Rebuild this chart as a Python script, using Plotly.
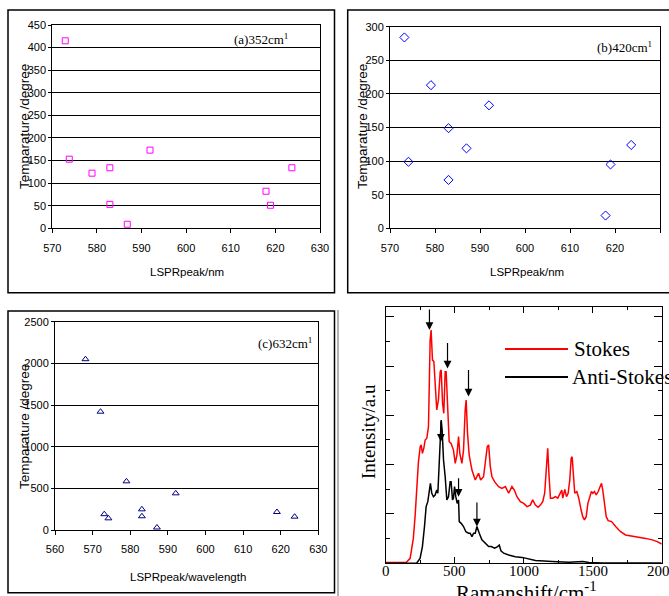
import plotly.graph_objects as go

# ---------------- data ----------------
# (a) 352 cm-1
a_lspr = [572.9, 573.8, 578.9, 582.9, 582.9, 586.8, 591.9, 617.9, 618.9, 623.7]
a_temp = [415, 153, 122, 134, 53, 9, 173, 82, 51, 134]
# (b) 420 cm-1
b_lspr = [573.2, 574.1, 579.1, 583.0, 583.0, 587.0, 592.0, 617.9, 619.0, 623.6]
b_temp = [284, 99, 213, 149, 72, 119, 183, 19, 95, 124]
# (c) 632 cm-1
c_lspr = [568.1, 572.1, 573.1, 574.2, 579.0, 583.1, 583.1, 587.1, 592.1, 619.0, 623.7]
c_temp = [2050, 1420, 190, 140, 584, 248, 165, 30, 440, 216, 160]

# (d) spectra
stokes_shift = [0, 50, 100, 150, 177, 200, 213, 225, 237, 250, 257, 266, 276, 286, 298, 310, 322, 329,
                339, 349, 358, 370, 382, 395, 402, 412, 421, 431, 438, 448, 460, 474, 491, 504, 516,
                528, 537, 552, 564, 576, 583, 593, 605, 625, 649, 673, 688, 709, 726, 736, 746, 758,
                770, 789, 818, 842, 867, 891, 915, 932, 951, 976, 1000, 1024, 1048, 1065, 1085, 1104,
                1121, 1138, 1152, 1165, 1174, 1184, 1194, 1210, 1230, 1247, 1266, 1276, 1283, 1298,
                1310, 1322, 1334, 1344, 1351, 1361, 1370, 1385, 1399, 1416, 1428, 1440, 1453, 1465,
                1477, 1491, 1501, 1513, 1525, 1540, 1554, 1564, 1573, 1583, 1598, 1612, 1637, 1666,
                1702, 1738, 1787, 1835, 1884, 1932, 1968, 2000]
stokes_int = [0.03, 0.03, 0.03, 0.04, 0.2, 1.0, 1.9, 3.0, 4.1, 4.73, 4.80, 4.46, 4.66, 5.00, 5.07, 5.54,
              9.05, 9.46, 8.24, 8.18, 7.43, 6.22, 6.62, 7.77, 7.84, 6.49, 6.08, 7.77, 7.77, 6.22, 4.93,
              4.86, 4.59, 4.05, 4.39, 5.14, 4.46, 4.05, 4.59, 6.22, 6.62, 5.27, 4.39, 3.78, 3.38,
              3.65, 3.38, 3.51, 4.19, 4.73, 4.80, 3.92, 3.51, 3.31, 3.11, 3.04, 3.11, 2.84, 3.11,
              2.97, 2.70, 2.50, 2.43, 2.30, 2.36, 2.57, 2.36, 2.27, 2.36, 2.50, 2.84, 3.78, 4.66,
              3.51, 2.64, 2.64, 2.70, 2.64, 2.91, 2.97, 2.64, 3.00, 2.70, 2.84, 3.38, 4.26, 4.32,
              3.51, 2.84, 2.91, 2.64, 2.16, 1.89, 1.76, 1.89, 2.43, 2.64, 2.91, 2.84, 2.91, 2.77,
              2.91, 3.11, 3.24, 2.97, 2.43, 1.89, 1.73, 1.69, 1.49, 1.28, 1.15, 1.11, 1.05, 1.01,
              0.95, 0.88, 0.78]

anti_shift = [0, 100, 200, 225, 249, 266, 281, 293, 305, 317, 324, 334, 346, 358, 370, 378, 387, 395,
              402, 409, 419, 431, 443, 455, 467, 474, 484, 491, 499, 508, 518, 528, 533, 547, 564,
              581, 600, 612, 625, 637, 649, 661, 668, 678, 697, 721, 746, 765, 789, 811, 823, 835,
              855, 891, 939, 988, 1036, 1085, 1206, 1327, 1428, 1472, 1569, 1811, 2000]
anti_int = [0.0, 0.0, 0.0, 0.01, 0.20, 0.68, 1.49, 2.30, 2.50, 3.11, 3.24, 2.84, 2.70, 2.77, 2.97,
            2.84, 3.78, 5.00, 5.81, 5.41, 4.19, 3.51, 2.57, 2.70, 3.31, 3.31, 2.57, 2.64, 3.11,
            2.70, 2.43, 2.57, 1.69, 1.62, 1.49, 1.28, 1.22, 1.22, 1.08, 1.22, 1.22, 1.49, 1.35,
            1.22, 0.95, 0.81, 0.68, 0.68, 0.61, 0.68, 0.74, 0.51, 0.41, 0.34, 0.27, 0.24, 0.16,
            0.11, 0.07, 0.04, 0.07, 0.03, 0.01, 0.01, 0.01]

# arrows (x position, tail intensity, tip intensity)
arrow_x = [317, 448, 600, 400, 528, 661]
arrow_tail = [10.35, 8.99, 7.90, 5.81, 3.51, 2.53]
arrow_tip = [9.46, 7.90, 6.76, 4.93, 2.70, 1.49]

# tick labels of the Raman-shift axis
raman_ticks = [0, 500, 1000, 1500, 2000]
raman_tick_labels = ["0", "500", "1000", "1500", "2000"]

# ---------------- layout helpers ----------------
W, H = 669, 596


def px(x):
    return x / W


def py(y):
    return 1 - y / H


SANS = "Liberation Sans, Arial, sans-serif"
SERIF = "Liberation Serif, Times New Roman, serif"

fig = go.Figure()
fig.add_trace(go.Scatter(x=a_lspr, y=a_temp, mode="markers", xaxis="x", yaxis="y",
                         marker=dict(symbol="square-open", size=6, color="#FF00FF", line=dict(width=1))))
fig.add_trace(go.Scatter(x=b_lspr, y=b_temp, mode="markers", xaxis="x2", yaxis="y2",
                         marker=dict(symbol="diamond-open", size=7, color="#0000FF", line=dict(width=1))))
fig.add_trace(go.Scatter(x=c_lspr, y=c_temp, mode="markers", xaxis="x3", yaxis="y3",
                         marker=dict(symbol="triangle-up-open", size=6, color="#000080", line=dict(width=1))))
fig.add_trace(go.Scatter(x=stokes_shift, y=stokes_int, mode="lines", xaxis="x4", yaxis="y4",
                         line=dict(color="#FF0000", width=1.5)))
fig.add_trace(go.Scatter(x=anti_shift, y=anti_int, mode="lines", xaxis="x4", yaxis="y4",
                         line=dict(color="#000000", width=1.5)))

TICKF = dict(family=SANS, size=11, color="black")


def sx(dom, rng, anchor):
    return dict(domain=dom, range=rng, dtick=10, anchor=anchor, showgrid=False, zeroline=False,
                automargin=False,
                showline=True, linecolor="black", linewidth=1, mirror=True,
                ticks="outside", ticklen=4, tickcolor="black",
                tickfont=TICKF, ticklabelstandoff=5)


def sy(dom, rng, dt, anchor):
    return dict(domain=dom, range=rng, dtick=dt, anchor=anchor, showgrid=True, gridcolor="black",
                gridwidth=1, zeroline=False, showline=True, linecolor="black", linewidth=1,
                automargin=False,
                mirror=True, ticks="outside", ticklen=3, tickcolor="black",
                tickfont=TICKF)


fig.update_layout(
    template="none",
    width=W, height=H, margin=dict(l=0, r=0, t=0, b=0, pad=0, autoexpand=False), showlegend=False,
    paper_bgcolor="white", plot_bgcolor="white",
    xaxis=sx([px(52.3), px(320)], [570, 630], "y"),
    yaxis=sy([py(228.3), py(25)], [0, 450], 50, "x"),
    xaxis2=sx([px(390), px(660)], [570, 630], "y2"),
    yaxis2=sy([py(228.3), py(26.7)], [0, 300], 50, "x2"),
    xaxis3=sx([px(55), px(318.3)], [560, 630], "y3"),
    yaxis3=sy([py(530), py(321.7)], [0, 2500], 500, "x3"),
    xaxis4=dict(domain=[px(385.7), px(661.7)], range=[0, 2000], dtick=500, anchor="y4",
                automargin=False,
                showgrid=False, zeroline=False, showline=True, linecolor="black", linewidth=1,
                mirror="ticks", ticks="inside", ticklen=6, tickcolor="black",
                minor=dict(dtick=250, ticks="inside", ticklen=3, tickcolor="black", showgrid=False),
                showticklabels=False),
    yaxis4=dict(domain=[py(563.3), py(307.3)], range=[0, 10.38], dtick=2, anchor="x4",
                automargin=False,
                showgrid=False, zeroline=False, showline=True, linecolor="black", linewidth=1,
                mirror="ticks", ticks="inside", ticklen=8, tickcolor="black",
                minor=dict(dtick=1, ticks="inside", ticklen=4, tickcolor="black", showgrid=False),
                showticklabels=False),
)

shapes = [
    dict(type="rect", xref="paper", yref="paper", x0=px(8), x1=px(334.5), y0=py(292.7), y1=py(10),
         line=dict(color="black", width=1.5)),
    dict(type="rect", xref="paper", yref="paper", x0=px(347.7), x1=px(680), y0=py(292.7), y1=py(10),
         line=dict(color="black", width=1.5)),
    dict(type="rect", xref="paper", yref="paper", x0=px(8), x1=px(334.5), y0=py(592.7), y1=py(311),
         line=dict(color="black", width=1.5)),
    dict(type="line", xref="paper", yref="paper", x0=px(338), x1=px(338), y0=py(310), y1=py(600),
         line=dict(color="#999999", width=1.5)),
    dict(type="line", xref="paper", yref="paper", x0=px(505), x1=px(568), y0=py(349), y1=py(349),
         line=dict(color="#FF0000", width=2)),
    dict(type="line", xref="paper", yref="paper", x0=px(505), x1=px(568), y0=py(377), y1=py(377),
         line=dict(color="black", width=2)),
]
fig.update_layout(shapes=shapes)

ann = []


def text(x, y, s, font, xanchor="center", angle=0):
    ann.append(dict(x=px(x), y=py(y), xref="paper", yref="paper", text=s, showarrow=False,
                    xanchor=xanchor, yanchor="middle", textangle=angle, font=font))


ytf = dict(family=SANS, size=13.5, color="black")
xtf = dict(family=SANS, size=11.5, color="black")
lab = dict(family=SERIF, size=13, color="black")
text(24, 127, "Temparature /degree", ytf, angle=-90)
text(362, 127, "Temparature /degree", ytf, angle=-90)
text(24, 427, "Temparature /degree", ytf, angle=-90)
text(187, 272, "LSPRpeak/nm", xtf)
text(527, 272, "LSPRpeak/nm", xtf)
text(188, 577, "LSPRpeak/wavelength", xtf)
text(232, 39, "(a)352cm<sup>1</sup>", lab, xanchor="left")
text(595, 47, "(b)420cm<sup>1</sup>", lab, xanchor="left")
text(256, 343, "(c)632cm<sup>1</sup>", lab, xanchor="left")
text(368, 432, "Intensity/a.u", dict(family=SERIF, size=19, color="black"), angle=-90)
text(526, 591, "Ramanshift/cm<sup>-1</sup>", dict(family=SERIF, size=21, color="black"))
text(572, 349, "Stokes", dict(family=SERIF, size=21, color="black"), xanchor="left")
text(570, 377, "Anti-Stokes", dict(family=SERIF, size=21, color="black"), xanchor="left")

for tv, tlab in zip(raman_ticks, raman_tick_labels):
    ann.append(dict(x=tv, y=py(571), xref="x4", yref="paper", text=tlab, showarrow=False,
                    xanchor="center", yanchor="middle",
                    font=dict(family=SERIF, size=15, color="black")))

for xa, tl, tp in zip(arrow_x, arrow_tail, arrow_tip):
    ann.append(dict(x=xa, y=tp, ax=xa, ay=tl, xref="x4", yref="y4", axref="x4", ayref="y4",
                    text="", showarrow=True, arrowhead=2, arrowsize=1.3, arrowwidth=1.2,
                    arrowcolor="black", standoff=0))

fig.update_layout(annotations=ann)
fig.write_html("out.html", config={"displayModeBar": False},
               post_script="document.body.style.margin='0';document.body.style.overflow='hidden';")
